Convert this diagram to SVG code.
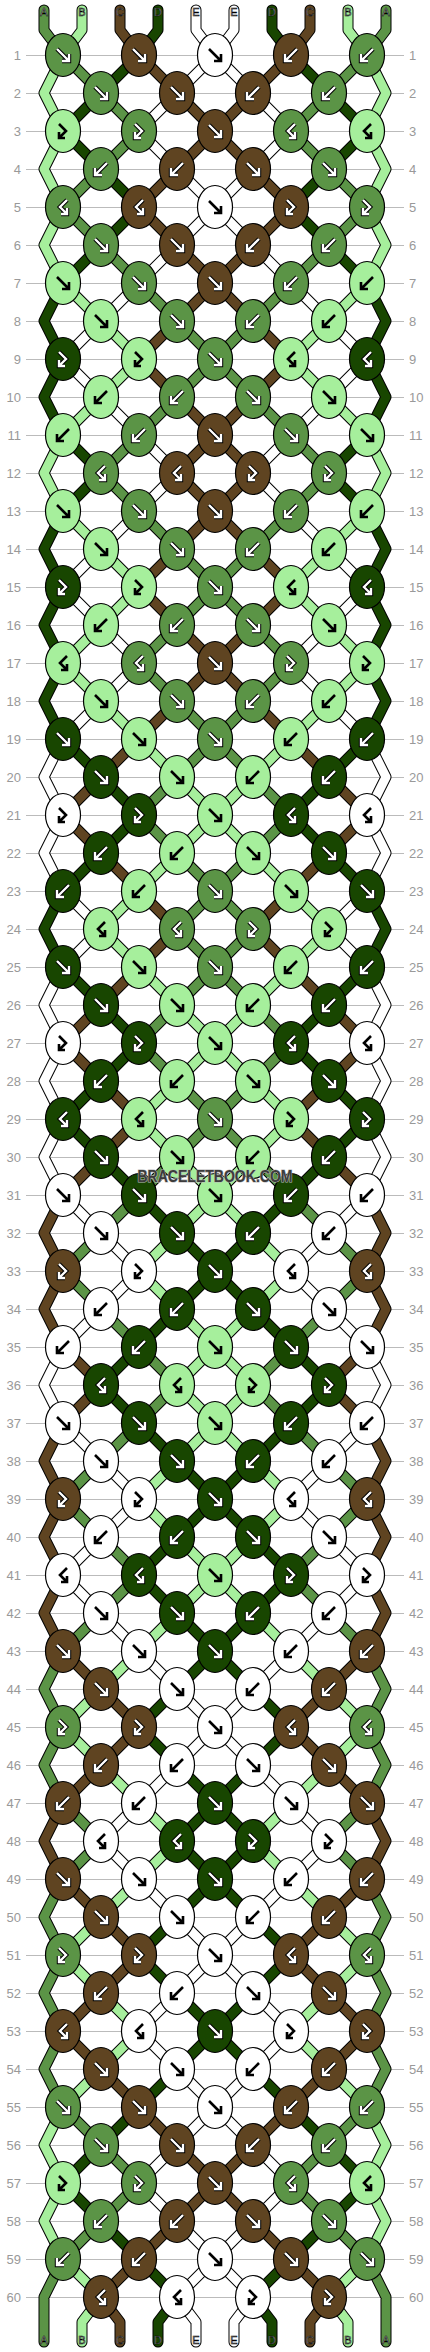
<svg xmlns="http://www.w3.org/2000/svg" xmlns:xlink="http://www.w3.org/1999/xlink" width="430" height="2352" viewBox="0 0 430 2352">
<style>
.ol{fill:none;stroke:#000;stroke-width:11;stroke-linejoin:round;stroke-linecap:round}
.cG,.cL,.cN,.cK,.cW{fill:none;stroke-width:9;stroke-linejoin:round;stroke-linecap:round}
.cG{stroke:#5b9446}.cL{stroke:#a6ef9c}.cN{stroke:#5f4421}.cK{stroke:#184600}.cW{stroke:#fff}
ellipse{stroke:#000;stroke-width:1.2}
.G{fill:#5b9446}.L{fill:#a6ef9c}.N{fill:#5f4421}.K{fill:#184600}.W{fill:#fff}
.ao{fill:none;stroke:#000;stroke-width:4.4}
.ai{fill:none;stroke:#fff;stroke-width:2.4}
.ab{fill:none;stroke:#000;stroke-width:2.6}
.grid{fill:none;stroke:#bbb;stroke-width:1}
.nl,.nr{font-family:"Liberation Sans",Arial,sans-serif;font-size:13px;fill:#999}
.nl{text-anchor:end}.nr{text-anchor:start}
.lab{font-family:"Liberation Sans",Arial,sans-serif;font-size:11px;fill:#fff;stroke:#000;stroke-width:.6;text-anchor:middle}
.wm{font-family:"Liberation Sans",Arial,sans-serif;font-size:16px;font-weight:bold;fill:#3c3c3c;stroke:#bbb;stroke-width:1.2;paint-order:stroke;text-anchor:middle}
</style>
<defs>
<path id="pF" d="M-6-6L5 5M-1 6H6V-1"/>
<path id="pB" d="M6-6L-5 5M1 6H-6V-1"/>
<path id="pH" d="M-4-7L3 0-4 7M-4 1V7H2"/>
<path id="pJ" d="M4-7L-3 0 4 7M4 1V7H-2"/>
<g id="wF"><use href="#pF" class="ao"/><use href="#pF" class="ai"/></g>
<g id="wB"><use href="#pB" class="ao"/><use href="#pB" class="ai"/></g>
<g id="wH"><use href="#pH" class="ao"/><use href="#pH" class="ai"/></g>
<g id="wJ"><use href="#pJ" class="ao"/><use href="#pJ" class="ai"/></g>
<use id="bF" href="#pF" class="ab"/>
<use id="bB" href="#pB" class="ab"/>
<use id="bH" href="#pH" class="ab"/>
<use id="bJ" href="#pJ" class="ab"/>
<ellipse id="eG" class="G" rx="17.5" ry="21.5"/>
<ellipse id="eN" class="N" rx="17.5" ry="21.5"/>
<ellipse id="eK" class="K" rx="17.5" ry="21.5"/>
<ellipse id="eL" class="L" rx="17.5" ry="21.5"/>
<ellipse id="eW" class="W" rx="17.5" ry="21.5"/>
<g id="GF"><use href="#eG"/><use href="#wF"/></g>
<g id="GB"><use href="#eG"/><use href="#wB"/></g>
<g id="GH"><use href="#eG"/><use href="#wH"/></g>
<g id="GJ"><use href="#eG"/><use href="#wJ"/></g>
<g id="NF"><use href="#eN"/><use href="#wF"/></g>
<g id="NB"><use href="#eN"/><use href="#wB"/></g>
<g id="NH"><use href="#eN"/><use href="#wH"/></g>
<g id="NJ"><use href="#eN"/><use href="#wJ"/></g>
<g id="KF"><use href="#eK"/><use href="#wF"/></g>
<g id="KB"><use href="#eK"/><use href="#wB"/></g>
<g id="KH"><use href="#eK"/><use href="#wH"/></g>
<g id="KJ"><use href="#eK"/><use href="#wJ"/></g>
<g id="LF"><use href="#eL"/><use href="#bF"/></g>
<g id="LB"><use href="#eL"/><use href="#bB"/></g>
<g id="LH"><use href="#eL"/><use href="#bH"/></g>
<g id="LJ"><use href="#eL"/><use href="#bJ"/></g>
<g id="WF"><use href="#eW"/><use href="#bF"/></g>
<g id="WB"><use href="#eW"/><use href="#bB"/></g>
<g id="WH"><use href="#eW"/><use href="#bH"/></g>
<g id="WJ"><use href="#eW"/><use href="#bJ"/></g>
<path id="tA" d="M44 10V30L63 55 101 93 139 131 101 169 63 207 101 245 139 283 177 321 215 359 177 397 139 435 101 473 139 511 177 549 215 587 177 625 139 663 177 701 215 739 177 777 139 815 177 853 215 891 177 929 215 967 177 1005 139 1043 177 1081 215 1119 177 1157 139 1195 101 1233 63 1271 101 1309 139 1347 177 1385 139 1423 101 1461 63 1499 101 1537 139 1575 101 1613 63 1651 44 1689 63 1727 44 1765 63 1803 101 1841 63 1879 44 1917 63 1955 44 1993 63 2031 44 2069 63 2107 101 2145 139 2183 101 2221 63 2259 44 2297V2342"/>
<path id="tB" d="M82 10V30L63 55 44 93 63 131 44 169 63 207 44 245 63 283 101 321 139 359 101 397 63 435 44 473 63 511 101 549 139 587 101 625 63 663 101 701 139 739 177 777 215 815 177 853 139 891 101 929 139 967 177 1005 215 1043 177 1081 139 1119 177 1157 215 1195 177 1233 139 1271 177 1309 215 1347 177 1385 215 1423 177 1461 139 1499 177 1537 215 1575 177 1613 139 1651 101 1689 63 1727 101 1765 139 1803 177 1841 139 1879 101 1917 63 1955 101 1993 139 2031 101 2069 63 2107 44 2145 63 2183 44 2221 63 2259 101 2297 82 2322V2342"/>
<path id="tC" d="M120 10V30L139 55 177 93 215 131 177 169 139 207 177 245 215 283 177 321 139 359 177 397 215 435 177 473 215 511 177 549 139 587 177 625 215 663 177 701 139 739 101 777 63 815 101 853 139 891 177 929 139 967 101 1005 63 1043 101 1081 139 1119 101 1157 63 1195 44 1233 63 1271 44 1309 63 1347 101 1385 63 1423 44 1461 63 1499 44 1537 63 1575 44 1613 63 1651 101 1689 139 1727 101 1765 63 1803 44 1841 63 1879 101 1917 139 1955 101 1993 63 2031 101 2069 139 2107 177 2145 215 2183 177 2221 139 2259 101 2297 120 2322V2342"/>
<path id="tD" d="M158 10V30L139 55 101 93 63 131 101 169 139 207 101 245 63 283 44 321 63 359 44 397 63 435 101 473 63 511 44 549 63 587 44 625 63 663 44 701 63 739 101 777 139 815 101 853 63 891 44 929 63 967 101 1005 139 1043 101 1081 63 1119 101 1157 139 1195 177 1233 215 1271 177 1309 139 1347 101 1385 139 1423 177 1461 215 1499 177 1537 139 1575 177 1613 215 1651 177 1689 139 1727 177 1765 215 1803 177 1841 215 1879 177 1917 139 1955 177 1993 215 2031 177 2069 139 2107 101 2145 63 2183 101 2221 139 2259 177 2297 158 2322V2342"/>
<path id="tE" d="M196 10V30L215 55 177 93 139 131 177 169 215 207 177 245 139 283 101 321 63 359 101 397 139 435 177 473 139 511 101 549 63 587 101 625 139 663 101 701 63 739 44 777 63 815 44 853 63 891 101 929 63 967 44 1005 63 1043 44 1081 63 1119 44 1157 63 1195 101 1233 139 1271 101 1309 63 1347 44 1385 63 1423 101 1461 139 1499 101 1537 63 1575 101 1613 139 1651 177 1689 215 1727 177 1765 139 1803 101 1841 139 1879 177 1917 215 1955 177 1993 139 2031 177 2069 215 2107 177 2145 139 2183 177 2221 215 2259 177 2297 196 2322V2342"/>
</defs>
<rect width="430" height="2352" fill="#fff"/>
<g id="grid">
<path class="grid" transform="translate(0 .5)" d="M26 55H404M26 93H404M26 131H404M26 169H404M26 207H404M26 245H404M26 283H404M26 321H404M26 359H404M26 397H404M26 435H404M26 473H404M26 511H404M26 549H404M26 587H404M26 625H404M26 663H404M26 701H404M26 739H404M26 777H404M26 815H404M26 853H404M26 891H404M26 929H404M26 967H404M26 1005H404M26 1043H404M26 1081H404M26 1119H404M26 1157H404M26 1195H404M26 1233H404M26 1271H404M26 1309H404M26 1347H404M26 1385H404M26 1423H404M26 1461H404M26 1499H404M26 1537H404M26 1575H404M26 1613H404M26 1651H404M26 1689H404M26 1727H404M26 1765H404M26 1803H404M26 1841H404M26 1879H404M26 1917H404M26 1955H404M26 1993H404M26 2031H404M26 2069H404M26 2107H404M26 2145H404M26 2183H404M26 2221H404M26 2259H404M26 2297H404"/>
<g class="nl"><text x="21" y="60">1</text><text x="21" y="98">2</text><text x="21" y="136">3</text><text x="21" y="174">4</text><text x="21" y="212">5</text><text x="21" y="250">6</text><text x="21" y="288">7</text><text x="21" y="326">8</text><text x="21" y="364">9</text><text x="21" y="402">10</text><text x="21" y="440">11</text><text x="21" y="478">12</text><text x="21" y="516">13</text><text x="21" y="554">14</text><text x="21" y="592">15</text><text x="21" y="630">16</text><text x="21" y="668">17</text><text x="21" y="706">18</text><text x="21" y="744">19</text><text x="21" y="782">20</text><text x="21" y="820">21</text><text x="21" y="858">22</text><text x="21" y="896">23</text><text x="21" y="934">24</text><text x="21" y="972">25</text><text x="21" y="1010">26</text><text x="21" y="1048">27</text><text x="21" y="1086">28</text><text x="21" y="1124">29</text><text x="21" y="1162">30</text><text x="21" y="1200">31</text><text x="21" y="1238">32</text><text x="21" y="1276">33</text><text x="21" y="1314">34</text><text x="21" y="1352">35</text><text x="21" y="1390">36</text><text x="21" y="1428">37</text><text x="21" y="1466">38</text><text x="21" y="1504">39</text><text x="21" y="1542">40</text><text x="21" y="1580">41</text><text x="21" y="1618">42</text><text x="21" y="1656">43</text><text x="21" y="1694">44</text><text x="21" y="1732">45</text><text x="21" y="1770">46</text><text x="21" y="1808">47</text><text x="21" y="1846">48</text><text x="21" y="1884">49</text><text x="21" y="1922">50</text><text x="21" y="1960">51</text><text x="21" y="1998">52</text><text x="21" y="2036">53</text><text x="21" y="2074">54</text><text x="21" y="2112">55</text><text x="21" y="2150">56</text><text x="21" y="2188">57</text><text x="21" y="2226">58</text><text x="21" y="2264">59</text><text x="21" y="2302">60</text></g>
<g class="nr"><text x="409" y="60">1</text><text x="409" y="98">2</text><text x="409" y="136">3</text><text x="409" y="174">4</text><text x="409" y="212">5</text><text x="409" y="250">6</text><text x="409" y="288">7</text><text x="409" y="326">8</text><text x="409" y="364">9</text><text x="409" y="402">10</text><text x="409" y="440">11</text><text x="409" y="478">12</text><text x="409" y="516">13</text><text x="409" y="554">14</text><text x="409" y="592">15</text><text x="409" y="630">16</text><text x="409" y="668">17</text><text x="409" y="706">18</text><text x="409" y="744">19</text><text x="409" y="782">20</text><text x="409" y="820">21</text><text x="409" y="858">22</text><text x="409" y="896">23</text><text x="409" y="934">24</text><text x="409" y="972">25</text><text x="409" y="1010">26</text><text x="409" y="1048">27</text><text x="409" y="1086">28</text><text x="409" y="1124">29</text><text x="409" y="1162">30</text><text x="409" y="1200">31</text><text x="409" y="1238">32</text><text x="409" y="1276">33</text><text x="409" y="1314">34</text><text x="409" y="1352">35</text><text x="409" y="1390">36</text><text x="409" y="1428">37</text><text x="409" y="1466">38</text><text x="409" y="1504">39</text><text x="409" y="1542">40</text><text x="409" y="1580">41</text><text x="409" y="1618">42</text><text x="409" y="1656">43</text><text x="409" y="1694">44</text><text x="409" y="1732">45</text><text x="409" y="1770">46</text><text x="409" y="1808">47</text><text x="409" y="1846">48</text><text x="409" y="1884">49</text><text x="409" y="1922">50</text><text x="409" y="1960">51</text><text x="409" y="1998">52</text><text x="409" y="2036">53</text><text x="409" y="2074">54</text><text x="409" y="2112">55</text><text x="409" y="2150">56</text><text x="409" y="2188">57</text><text x="409" y="2226">58</text><text x="409" y="2264">59</text><text x="409" y="2302">60</text></g>
</g>
<g id="connectors">
<use href="#tA" class="ol"/><use href="#tB" class="ol"/><use href="#tC" class="ol"/><use href="#tD" class="ol"/><use href="#tE" class="ol"/>
<g transform="matrix(-1 0 0 1 430 0)"><use href="#tA" class="ol"/><use href="#tB" class="ol"/><use href="#tC" class="ol"/><use href="#tD" class="ol"/><use href="#tE" class="ol"/></g>
<use href="#tA" class="cG"/><use href="#tB" class="cL"/><use href="#tC" class="cN"/><use href="#tD" class="cK"/><use href="#tE" class="cW"/>
<g transform="matrix(-1 0 0 1 430 0)"><use href="#tA" class="cG"/><use href="#tB" class="cL"/><use href="#tC" class="cN"/><use href="#tD" class="cK"/><use href="#tE" class="cW"/></g>
</g>
<g id="labels">
<text class="lab" x="44" y="16">A</text><text class="lab" x="82" y="16">B</text><text class="lab" x="120" y="16">C</text><text class="lab" x="158" y="16">D</text><text class="lab" x="196" y="16">E</text><text class="lab" x="234" y="16">E</text><text class="lab" x="272" y="16">D</text><text class="lab" x="310" y="16">C</text><text class="lab" x="348" y="16">B</text><text class="lab" x="386" y="16">A</text>
<text class="lab" x="44" y="2344">A</text><text class="lab" x="82" y="2344">B</text><text class="lab" x="120" y="2344">C</text><text class="lab" x="158" y="2344">D</text><text class="lab" x="196" y="2344">E</text><text class="lab" x="234" y="2344">E</text><text class="lab" x="272" y="2344">D</text><text class="lab" x="310" y="2344">C</text><text class="lab" x="348" y="2344">B</text><text class="lab" x="386" y="2344">A</text>
</g>
<g id="knots">
<g id="r1" transform="translate(0 55)"><g id="k1-1"><use href="#GF" x="63"/></g><g id="k1-2"><use href="#NF" x="139"/></g><g id="k1-3"><use href="#WF" x="215"/></g><g id="k1-4"><use href="#NB" x="291"/></g><g id="k1-5"><use href="#GB" x="367"/></g></g>
<g id="r2" transform="translate(0 93)"><g id="k2-1"><use href="#GF" x="101"/></g><g id="k2-2"><use href="#NF" x="177"/></g><g id="k2-3"><use href="#NB" x="253"/></g><g id="k2-4"><use href="#GB" x="329"/></g></g>
<g id="r3" transform="translate(0 131)"><g id="k3-1"><use href="#LH" x="63"/></g><g id="k3-2"><use href="#GH" x="139"/></g><g id="k3-3"><use href="#NF" x="215"/></g><g id="k3-4"><use href="#GJ" x="291"/></g><g id="k3-5"><use href="#LJ" x="367"/></g></g>
<g id="r4" transform="translate(0 169)"><g id="k4-1"><use href="#GB" x="101"/></g><g id="k4-2"><use href="#NB" x="177"/></g><g id="k4-3"><use href="#NF" x="253"/></g><g id="k4-4"><use href="#GF" x="329"/></g></g>
<g id="r5" transform="translate(0 207)"><g id="k5-1"><use href="#GJ" x="63"/></g><g id="k5-2"><use href="#NJ" x="139"/></g><g id="k5-3"><use href="#WF" x="215"/></g><g id="k5-4"><use href="#NH" x="291"/></g><g id="k5-5"><use href="#GH" x="367"/></g></g>
<g id="r6" transform="translate(0 245)"><g id="k6-1"><use href="#GF" x="101"/></g><g id="k6-2"><use href="#NF" x="177"/></g><g id="k6-3"><use href="#NB" x="253"/></g><g id="k6-4"><use href="#GB" x="329"/></g></g>
<g id="r7" transform="translate(0 283)"><g id="k7-1"><use href="#LF" x="63"/></g><g id="k7-2"><use href="#GF" x="139"/></g><g id="k7-3"><use href="#NF" x="215"/></g><g id="k7-4"><use href="#GB" x="291"/></g><g id="k7-5"><use href="#LB" x="367"/></g></g>
<g id="r8" transform="translate(0 321)"><g id="k8-1"><use href="#LF" x="101"/></g><g id="k8-2"><use href="#GF" x="177"/></g><g id="k8-3"><use href="#GB" x="253"/></g><g id="k8-4"><use href="#LB" x="329"/></g></g>
<g id="r9" transform="translate(0 359)"><g id="k9-1"><use href="#KH" x="63"/></g><g id="k9-2"><use href="#LH" x="139"/></g><g id="k9-3"><use href="#GF" x="215"/></g><g id="k9-4"><use href="#LJ" x="291"/></g><g id="k9-5"><use href="#KJ" x="367"/></g></g>
<g id="r10" transform="translate(0 397)"><g id="k10-1"><use href="#LB" x="101"/></g><g id="k10-2"><use href="#GB" x="177"/></g><g id="k10-3"><use href="#GF" x="253"/></g><g id="k10-4"><use href="#LF" x="329"/></g></g>
<g id="r11" transform="translate(0 435)"><g id="k11-1"><use href="#LB" x="63"/></g><g id="k11-2"><use href="#GB" x="139"/></g><g id="k11-3"><use href="#NF" x="215"/></g><g id="k11-4"><use href="#GF" x="291"/></g><g id="k11-5"><use href="#LF" x="367"/></g></g>
<g id="r12" transform="translate(0 473)"><g id="k12-1"><use href="#GJ" x="101"/></g><g id="k12-2"><use href="#NJ" x="177"/></g><g id="k12-3"><use href="#NH" x="253"/></g><g id="k12-4"><use href="#GH" x="329"/></g></g>
<g id="r13" transform="translate(0 511)"><g id="k13-1"><use href="#LF" x="63"/></g><g id="k13-2"><use href="#GF" x="139"/></g><g id="k13-3"><use href="#NF" x="215"/></g><g id="k13-4"><use href="#GB" x="291"/></g><g id="k13-5"><use href="#LB" x="367"/></g></g>
<g id="r14" transform="translate(0 549)"><g id="k14-1"><use href="#LF" x="101"/></g><g id="k14-2"><use href="#GF" x="177"/></g><g id="k14-3"><use href="#GB" x="253"/></g><g id="k14-4"><use href="#LB" x="329"/></g></g>
<g id="r15" transform="translate(0 587)"><g id="k15-1"><use href="#KH" x="63"/></g><g id="k15-2"><use href="#LH" x="139"/></g><g id="k15-3"><use href="#GF" x="215"/></g><g id="k15-4"><use href="#LJ" x="291"/></g><g id="k15-5"><use href="#KJ" x="367"/></g></g>
<g id="r16" transform="translate(0 625)"><g id="k16-1"><use href="#LB" x="101"/></g><g id="k16-2"><use href="#GB" x="177"/></g><g id="k16-3"><use href="#GF" x="253"/></g><g id="k16-4"><use href="#LF" x="329"/></g></g>
<g id="r17" transform="translate(0 663)"><g id="k17-1"><use href="#LJ" x="63"/></g><g id="k17-2"><use href="#GJ" x="139"/></g><g id="k17-3"><use href="#NF" x="215"/></g><g id="k17-4"><use href="#GH" x="291"/></g><g id="k17-5"><use href="#LH" x="367"/></g></g>
<g id="r18" transform="translate(0 701)"><g id="k18-1"><use href="#LF" x="101"/></g><g id="k18-2"><use href="#GF" x="177"/></g><g id="k18-3"><use href="#GB" x="253"/></g><g id="k18-4"><use href="#LB" x="329"/></g></g>
<g id="r19" transform="translate(0 739)"><g id="k19-1"><use href="#KF" x="63"/></g><g id="k19-2"><use href="#LF" x="139"/></g><g id="k19-3"><use href="#GF" x="215"/></g><g id="k19-4"><use href="#LB" x="291"/></g><g id="k19-5"><use href="#KB" x="367"/></g></g>
<g id="r20" transform="translate(0 777)"><g id="k20-1"><use href="#KF" x="101"/></g><g id="k20-2"><use href="#LF" x="177"/></g><g id="k20-3"><use href="#LB" x="253"/></g><g id="k20-4"><use href="#KB" x="329"/></g></g>
<g id="r21" transform="translate(0 815)"><g id="k21-1"><use href="#WH" x="63"/></g><g id="k21-2"><use href="#KH" x="139"/></g><g id="k21-3"><use href="#LF" x="215"/></g><g id="k21-4"><use href="#KJ" x="291"/></g><g id="k21-5"><use href="#WJ" x="367"/></g></g>
<g id="r22" transform="translate(0 853)"><g id="k22-1"><use href="#KB" x="101"/></g><g id="k22-2"><use href="#LB" x="177"/></g><g id="k22-3"><use href="#LF" x="253"/></g><g id="k22-4"><use href="#KF" x="329"/></g></g>
<g id="r23" transform="translate(0 891)"><g id="k23-1"><use href="#KB" x="63"/></g><g id="k23-2"><use href="#LB" x="139"/></g><g id="k23-3"><use href="#GF" x="215"/></g><g id="k23-4"><use href="#LF" x="291"/></g><g id="k23-5"><use href="#KF" x="367"/></g></g>
<g id="r24" transform="translate(0 929)"><g id="k24-1"><use href="#LJ" x="101"/></g><g id="k24-2"><use href="#GJ" x="177"/></g><g id="k24-3"><use href="#GH" x="253"/></g><g id="k24-4"><use href="#LH" x="329"/></g></g>
<g id="r25" transform="translate(0 967)"><g id="k25-1"><use href="#KF" x="63"/></g><g id="k25-2"><use href="#LF" x="139"/></g><g id="k25-3"><use href="#GF" x="215"/></g><g id="k25-4"><use href="#LB" x="291"/></g><g id="k25-5"><use href="#KB" x="367"/></g></g>
<g id="r26" transform="translate(0 1005)"><g id="k26-1"><use href="#KF" x="101"/></g><g id="k26-2"><use href="#LF" x="177"/></g><g id="k26-3"><use href="#LB" x="253"/></g><g id="k26-4"><use href="#KB" x="329"/></g></g>
<g id="r27" transform="translate(0 1043)"><g id="k27-1"><use href="#WH" x="63"/></g><g id="k27-2"><use href="#KH" x="139"/></g><g id="k27-3"><use href="#LF" x="215"/></g><g id="k27-4"><use href="#KJ" x="291"/></g><g id="k27-5"><use href="#WJ" x="367"/></g></g>
<g id="r28" transform="translate(0 1081)"><g id="k28-1"><use href="#KB" x="101"/></g><g id="k28-2"><use href="#LB" x="177"/></g><g id="k28-3"><use href="#LF" x="253"/></g><g id="k28-4"><use href="#KF" x="329"/></g></g>
<g id="r29" transform="translate(0 1119)"><g id="k29-1"><use href="#KJ" x="63"/></g><g id="k29-2"><use href="#LJ" x="139"/></g><g id="k29-3"><use href="#GF" x="215"/></g><g id="k29-4"><use href="#LH" x="291"/></g><g id="k29-5"><use href="#KH" x="367"/></g></g>
<g id="r30" transform="translate(0 1157)"><g id="k30-1"><use href="#KF" x="101"/></g><g id="k30-2"><use href="#LF" x="177"/></g><g id="k30-3"><use href="#LB" x="253"/></g><g id="k30-4"><use href="#KB" x="329"/></g></g>
<g id="r31" transform="translate(0 1195)"><g id="k31-1"><use href="#WF" x="63"/></g><g id="k31-2"><use href="#KF" x="139"/></g><g id="k31-3"><use href="#LF" x="215"/></g><g id="k31-4"><use href="#KB" x="291"/></g><g id="k31-5"><use href="#WB" x="367"/></g></g>
<g id="r32" transform="translate(0 1233)"><g id="k32-1"><use href="#WF" x="101"/></g><g id="k32-2"><use href="#KF" x="177"/></g><g id="k32-3"><use href="#KB" x="253"/></g><g id="k32-4"><use href="#WB" x="329"/></g></g>
<g id="r33" transform="translate(0 1271)"><g id="k33-1"><use href="#NH" x="63"/></g><g id="k33-2"><use href="#WH" x="139"/></g><g id="k33-3"><use href="#KF" x="215"/></g><g id="k33-4"><use href="#WJ" x="291"/></g><g id="k33-5"><use href="#NJ" x="367"/></g></g>
<g id="r34" transform="translate(0 1309)"><g id="k34-1"><use href="#WB" x="101"/></g><g id="k34-2"><use href="#KB" x="177"/></g><g id="k34-3"><use href="#KF" x="253"/></g><g id="k34-4"><use href="#WF" x="329"/></g></g>
<g id="r35" transform="translate(0 1347)"><g id="k35-1"><use href="#WB" x="63"/></g><g id="k35-2"><use href="#KB" x="139"/></g><g id="k35-3"><use href="#LF" x="215"/></g><g id="k35-4"><use href="#KF" x="291"/></g><g id="k35-5"><use href="#WF" x="367"/></g></g>
<g id="r36" transform="translate(0 1385)"><g id="k36-1"><use href="#KJ" x="101"/></g><g id="k36-2"><use href="#LJ" x="177"/></g><g id="k36-3"><use href="#LH" x="253"/></g><g id="k36-4"><use href="#KH" x="329"/></g></g>
<g id="r37" transform="translate(0 1423)"><g id="k37-1"><use href="#WF" x="63"/></g><g id="k37-2"><use href="#KF" x="139"/></g><g id="k37-3"><use href="#LF" x="215"/></g><g id="k37-4"><use href="#KB" x="291"/></g><g id="k37-5"><use href="#WB" x="367"/></g></g>
<g id="r38" transform="translate(0 1461)"><g id="k38-1"><use href="#WF" x="101"/></g><g id="k38-2"><use href="#KF" x="177"/></g><g id="k38-3"><use href="#KB" x="253"/></g><g id="k38-4"><use href="#WB" x="329"/></g></g>
<g id="r39" transform="translate(0 1499)"><g id="k39-1"><use href="#NH" x="63"/></g><g id="k39-2"><use href="#WH" x="139"/></g><g id="k39-3"><use href="#KF" x="215"/></g><g id="k39-4"><use href="#WJ" x="291"/></g><g id="k39-5"><use href="#NJ" x="367"/></g></g>
<g id="r40" transform="translate(0 1537)"><g id="k40-1"><use href="#WB" x="101"/></g><g id="k40-2"><use href="#KB" x="177"/></g><g id="k40-3"><use href="#KF" x="253"/></g><g id="k40-4"><use href="#WF" x="329"/></g></g>
<g id="r41" transform="translate(0 1575)"><g id="k41-1"><use href="#WJ" x="63"/></g><g id="k41-2"><use href="#KJ" x="139"/></g><g id="k41-3"><use href="#LF" x="215"/></g><g id="k41-4"><use href="#KH" x="291"/></g><g id="k41-5"><use href="#WH" x="367"/></g></g>
<g id="r42" transform="translate(0 1613)"><g id="k42-1"><use href="#WF" x="101"/></g><g id="k42-2"><use href="#KF" x="177"/></g><g id="k42-3"><use href="#KB" x="253"/></g><g id="k42-4"><use href="#WB" x="329"/></g></g>
<g id="r43" transform="translate(0 1651)"><g id="k43-1"><use href="#NF" x="63"/></g><g id="k43-2"><use href="#WF" x="139"/></g><g id="k43-3"><use href="#KF" x="215"/></g><g id="k43-4"><use href="#WB" x="291"/></g><g id="k43-5"><use href="#NB" x="367"/></g></g>
<g id="r44" transform="translate(0 1689)"><g id="k44-1"><use href="#NF" x="101"/></g><g id="k44-2"><use href="#WF" x="177"/></g><g id="k44-3"><use href="#WB" x="253"/></g><g id="k44-4"><use href="#NB" x="329"/></g></g>
<g id="r45" transform="translate(0 1727)"><g id="k45-1"><use href="#GH" x="63"/></g><g id="k45-2"><use href="#NH" x="139"/></g><g id="k45-3"><use href="#WF" x="215"/></g><g id="k45-4"><use href="#NJ" x="291"/></g><g id="k45-5"><use href="#GJ" x="367"/></g></g>
<g id="r46" transform="translate(0 1765)"><g id="k46-1"><use href="#NB" x="101"/></g><g id="k46-2"><use href="#WB" x="177"/></g><g id="k46-3"><use href="#WF" x="253"/></g><g id="k46-4"><use href="#NF" x="329"/></g></g>
<g id="r47" transform="translate(0 1803)"><g id="k47-1"><use href="#NB" x="63"/></g><g id="k47-2"><use href="#WB" x="139"/></g><g id="k47-3"><use href="#KF" x="215"/></g><g id="k47-4"><use href="#WF" x="291"/></g><g id="k47-5"><use href="#NF" x="367"/></g></g>
<g id="r48" transform="translate(0 1841)"><g id="k48-1"><use href="#WJ" x="101"/></g><g id="k48-2"><use href="#KJ" x="177"/></g><g id="k48-3"><use href="#KH" x="253"/></g><g id="k48-4"><use href="#WH" x="329"/></g></g>
<g id="r49" transform="translate(0 1879)"><g id="k49-1"><use href="#NF" x="63"/></g><g id="k49-2"><use href="#WF" x="139"/></g><g id="k49-3"><use href="#KF" x="215"/></g><g id="k49-4"><use href="#WB" x="291"/></g><g id="k49-5"><use href="#NB" x="367"/></g></g>
<g id="r50" transform="translate(0 1917)"><g id="k50-1"><use href="#NF" x="101"/></g><g id="k50-2"><use href="#WF" x="177"/></g><g id="k50-3"><use href="#WB" x="253"/></g><g id="k50-4"><use href="#NB" x="329"/></g></g>
<g id="r51" transform="translate(0 1955)"><g id="k51-1"><use href="#GH" x="63"/></g><g id="k51-2"><use href="#NH" x="139"/></g><g id="k51-3"><use href="#WF" x="215"/></g><g id="k51-4"><use href="#NJ" x="291"/></g><g id="k51-5"><use href="#GJ" x="367"/></g></g>
<g id="r52" transform="translate(0 1993)"><g id="k52-1"><use href="#NB" x="101"/></g><g id="k52-2"><use href="#WB" x="177"/></g><g id="k52-3"><use href="#WF" x="253"/></g><g id="k52-4"><use href="#NF" x="329"/></g></g>
<g id="r53" transform="translate(0 2031)"><g id="k53-1"><use href="#NJ" x="63"/></g><g id="k53-2"><use href="#WJ" x="139"/></g><g id="k53-3"><use href="#KF" x="215"/></g><g id="k53-4"><use href="#WH" x="291"/></g><g id="k53-5"><use href="#NH" x="367"/></g></g>
<g id="r54" transform="translate(0 2069)"><g id="k54-1"><use href="#NF" x="101"/></g><g id="k54-2"><use href="#WF" x="177"/></g><g id="k54-3"><use href="#WB" x="253"/></g><g id="k54-4"><use href="#NB" x="329"/></g></g>
<g id="r55" transform="translate(0 2107)"><g id="k55-1"><use href="#GF" x="63"/></g><g id="k55-2"><use href="#NF" x="139"/></g><g id="k55-3"><use href="#WF" x="215"/></g><g id="k55-4"><use href="#NB" x="291"/></g><g id="k55-5"><use href="#GB" x="367"/></g></g>
<g id="r56" transform="translate(0 2145)"><g id="k56-1"><use href="#GF" x="101"/></g><g id="k56-2"><use href="#NF" x="177"/></g><g id="k56-3"><use href="#NB" x="253"/></g><g id="k56-4"><use href="#GB" x="329"/></g></g>
<g id="r57" transform="translate(0 2183)"><g id="k57-1"><use href="#LH" x="63"/></g><g id="k57-2"><use href="#GH" x="139"/></g><g id="k57-3"><use href="#NF" x="215"/></g><g id="k57-4"><use href="#GJ" x="291"/></g><g id="k57-5"><use href="#LJ" x="367"/></g></g>
<g id="r58" transform="translate(0 2221)"><g id="k58-1"><use href="#GB" x="101"/></g><g id="k58-2"><use href="#NB" x="177"/></g><g id="k58-3"><use href="#NF" x="253"/></g><g id="k58-4"><use href="#GF" x="329"/></g></g>
<g id="r59" transform="translate(0 2259)"><g id="k59-1"><use href="#GB" x="63"/></g><g id="k59-2"><use href="#NB" x="139"/></g><g id="k59-3"><use href="#WF" x="215"/></g><g id="k59-4"><use href="#NF" x="291"/></g><g id="k59-5"><use href="#GF" x="367"/></g></g>
<g id="r60" transform="translate(0 2297)"><g id="k60-1"><use href="#NJ" x="101"/></g><g id="k60-2"><use href="#WJ" x="177"/></g><g id="k60-3"><use href="#WH" x="253"/></g><g id="k60-4"><use href="#NH" x="329"/></g></g>
</g>
<text class="wm" x="215" y="1182" textLength="155" lengthAdjust="spacingAndGlyphs">BRACELETBOOK.COM</text>
</svg>
